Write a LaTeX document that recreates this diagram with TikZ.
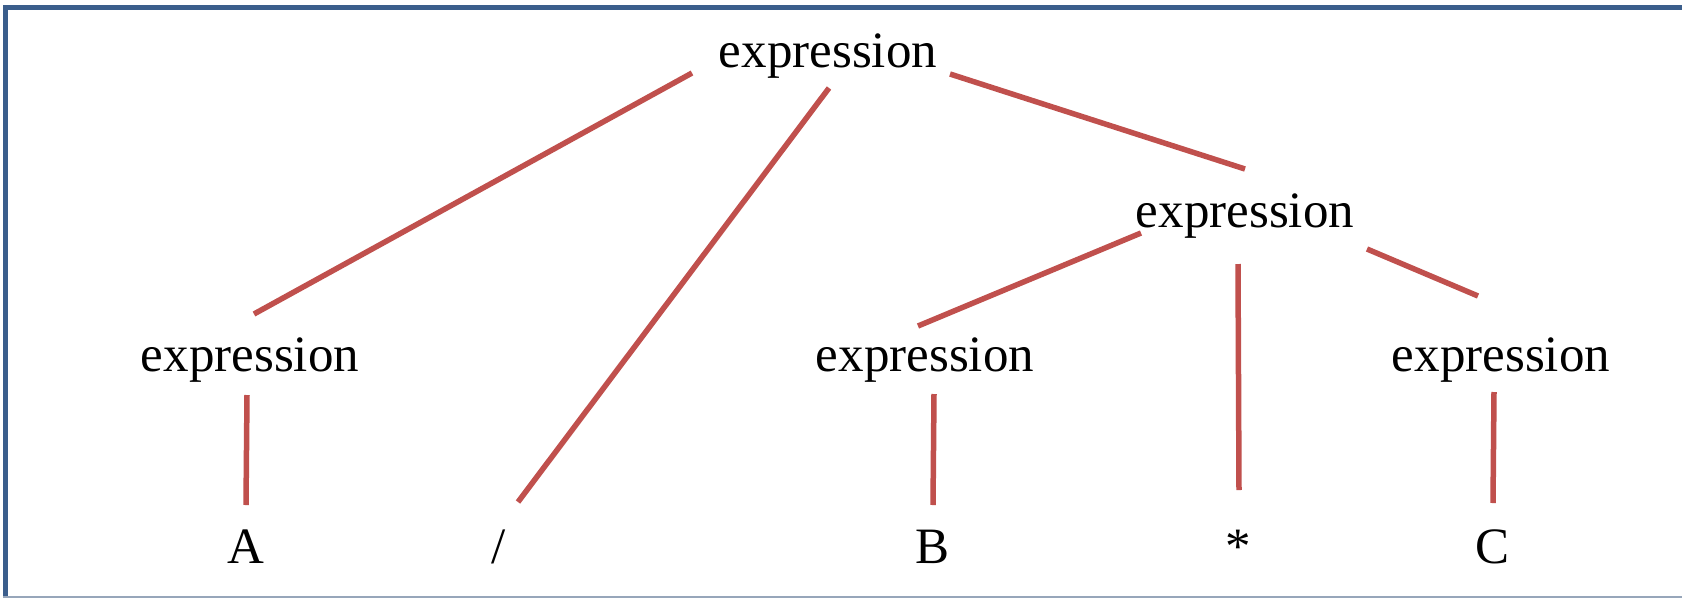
\documentclass[tikz,border=0pt]{standalone}
\usepackage{fontspec}
\setmainfont{Liberation Serif}
\definecolor{edgered}{HTML}{C0504D}
\definecolor{frameblue}{HTML}{3B5E8C}
\definecolor{framelight}{HTML}{97A6BA}
\begin{document}
\begin{tikzpicture}[x=1pt,y=-1pt,
  lbl/.style={anchor=base,inner sep=0pt,font=\fontsize{51}{60}\selectfont},
  edge/.style={draw=edgered,line width=5.5pt}]
\useasboundingbox (0,0) rectangle (1682,598);
% frame
\draw[frameblue,line width=5pt] (3,7.5) -- (1682,7.5);
\draw[frameblue,line width=5pt] (5.5,5) -- (5.5,597);
\draw[framelight,line width=1.5pt] (3,597) -- (1682,597);
% labels
\node[lbl] (e0) at (828,67) {expression};
\node[lbl] (e1) at (1245,227) {expression};
\node[lbl] (e2) at (250,371) {expression};
\node[lbl] (e3) at (925,371) {expression};
\node[lbl] (e4) at (1501,371) {expression};
\node[lbl] (a) at (246,563) {A};
\node[lbl] (sl) at (499,563) {/};
\node[lbl] (b) at (932,563) {B};
\node[lbl] (st) at (1238,563) {*};
\node[lbl] (c) at (1492,563) {C};
% connector ends
\coordinate (p1a) at (692,73);  \coordinate (p1b) at (254,314);
\coordinate (p2a) at (829,88);  \coordinate (p2b) at (518,502);
\coordinate (p3a) at (950,74);  \coordinate (p3b) at (1245,169);
\coordinate (p4a) at (1141,233); \coordinate (p4b) at (918,326);
\coordinate (p5a) at (1238,264); \coordinate (p5b) at (1239,490);
\coordinate (p6a) at (1367,249); \coordinate (p6b) at (1478,296);
\coordinate (p7a) at (247,395); \coordinate (p7b) at (246,505);
\coordinate (p8a) at (934,394); \coordinate (p8b) at (933,505);
\coordinate (p9a) at (1494,392); \coordinate (p9b) at (1493,503);
\draw[edge] (p1a) -- (p1b);
\draw[edge] (p2a) -- (p2b);
\draw[edge] (p3a) -- (p3b);
\draw[edge] (p4a) -- (p4b);
\draw[edge] (p5a) -- (p5b);
\draw[edge] (p6a) -- (p6b);
\draw[edge] (p7a) -- (p7b);
\draw[edge] (p8a) -- (p8b);
\draw[edge] (p9a) -- (p9b);
\end{tikzpicture}
\end{document}
